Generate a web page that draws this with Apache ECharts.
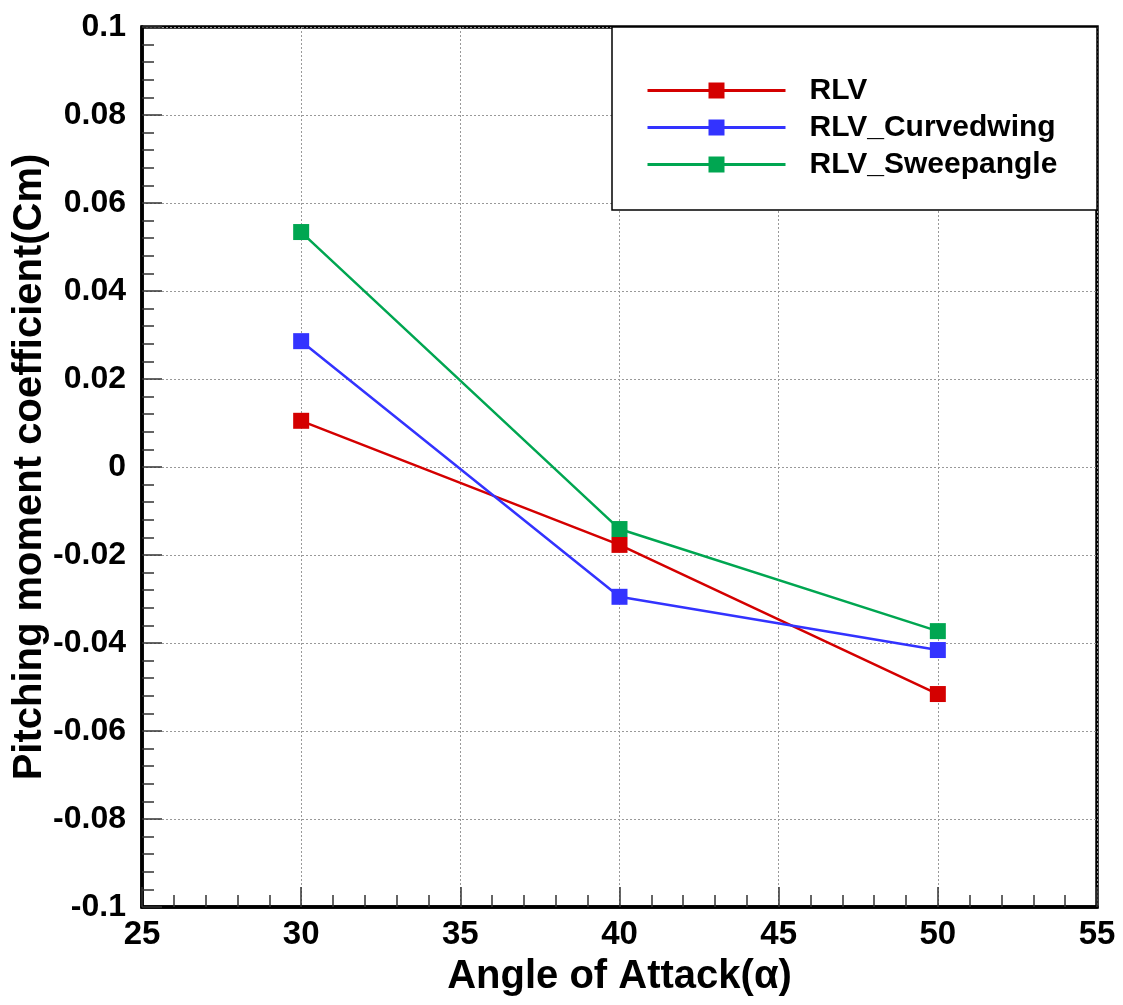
<!DOCTYPE html>
<html>
<head>
<meta charset="utf-8">
<script src="https://cdn.jsdelivr.net/npm/echarts@6/dist/echarts.min.js"></script>
<style>html,body{margin:0;padding:0;background:#fff}#c{width:1123px;height:1005px}</style>
</head>
<body>
<div id="c"></div>
<script>
const angles = [30, 40, 50];
const rlv = [0.0105, -0.0177, -0.0516];
const rlvCurved = [0.0286, -0.0295, -0.0416];
const rlvSweep = [0.0534, -0.0141, -0.0373];
const seriesNames = ['RLV', 'RLV_Curvedwing', 'RLV_Sweepangle'];
const seriesColors = ['#d40000', '#3333ff', '#00a651'];
const xTickLabels = ['25', '30', '35', '40', '45', '50', '55'];
const yTickLabels = ['-0.1', '-0.08', '-0.06', '-0.04', '-0.02', '0', '0.02', '0.04', '0.06', '0.08', '0.1'];

const FONT = 'Liberation Sans, Arial, sans-serif';
const chart = echarts.init(document.getElementById('c'), null, {renderer: 'canvas'});

function mk(name, vals, color) {
  return {
    name: name, type: 'line',
    data: angles.map((a, i) => [a, vals[i]]),
    symbol: 'rect', symbolSize: 16,
    lineStyle: {color: color, width: 2.5},
    itemStyle: {color: color},
    z: 5
  };
}

chart.setOption({
  animation: false,
  backgroundColor: '#fff',
  grid: {left: 142, right: 26, top: 27, bottom: 98, containLabel: false, outerBoundsMode: 'none',
         show: true, borderColor: '#000', borderWidth: 3.5, backgroundColor: 'transparent'},
  graphic: [{
    type: 'rect', shape: {x: 612, y: 27, width: 485, height: 183},
    style: {fill: '#fff', stroke: '#000', lineWidth: 1.5}, z: 10
  }],
  legend: {
    orient: 'vertical', left: 646, top: 72,
    itemWidth: 138, itemHeight: 20, itemGap: 0,
    padding: 0,
    data: seriesNames,
    lineStyle: {width: 3},
    textStyle: {fontFamily: FONT, fontWeight: 'bold', fontSize: 30, color: '#000', lineHeight: 37, padding: [0, 0, 0, 19]},
    z: 20
  },
  xAxis: {
    type: 'value', min: 25, max: 55, interval: 5,
    name: 'Angle of Attack(α)', nameLocation: 'middle', nameGap: 50, nameMoveOverlap: false,
    nameTextStyle: {fontFamily: FONT, fontWeight: 'bold', fontSize: 40, color: '#000'},
    axisLine: {show: true, onZero: false, lineStyle: {color: '#000', width: 3.5}},
    axisTick: {show: true, inside: true, length: 20, lineStyle: {color: '#333', width: 1.5}},
    minorTick: {show: true, splitNumber: 5, length: 12, lineStyle: {color: '#333', width: 1.5}},
    splitLine: {show: true, lineStyle: {color: '#999', width: 1, type: [2, 2]}},
    axisLabel: {
      fontFamily: FONT, fontWeight: 'bold', fontSize: 33, color: '#000', margin: 11,
      formatter: v => xTickLabels[Math.round((v - 25) / 5)]
    }
  },
  yAxis: {
    type: 'value', min: -0.1, max: 0.1, interval: 0.02,
    name: 'Pitching moment coefficient(Cm)', nameLocation: 'middle', nameGap: 92, nameMoveOverlap: false,
    nameTextStyle: {fontFamily: FONT, fontWeight: 'bold', fontSize: 40, color: '#000'},
    axisLine: {show: true, onZero: false, lineStyle: {color: '#000', width: 3.5}},
    axisTick: {show: true, inside: true, length: 20, lineStyle: {color: '#333', width: 1.5}},
    minorTick: {show: true, splitNumber: 5, length: 12, lineStyle: {color: '#333', width: 1.5}},
    splitLine: {show: true, lineStyle: {color: '#999', width: 1, type: [2, 2]}},
    axisLabel: {
      fontFamily: FONT, fontWeight: 'bold', fontSize: 32, color: '#000', margin: 16,
      formatter: v => yTickLabels[Math.round((v + 0.1) / 0.02)]
    }
  },
  series: [
    mk(seriesNames[0], rlv, seriesColors[0]),
    mk(seriesNames[1], rlvCurved, seriesColors[1]),
    mk(seriesNames[2], rlvSweep, seriesColors[2])
  ]
});
</script>
</body>
</html>
